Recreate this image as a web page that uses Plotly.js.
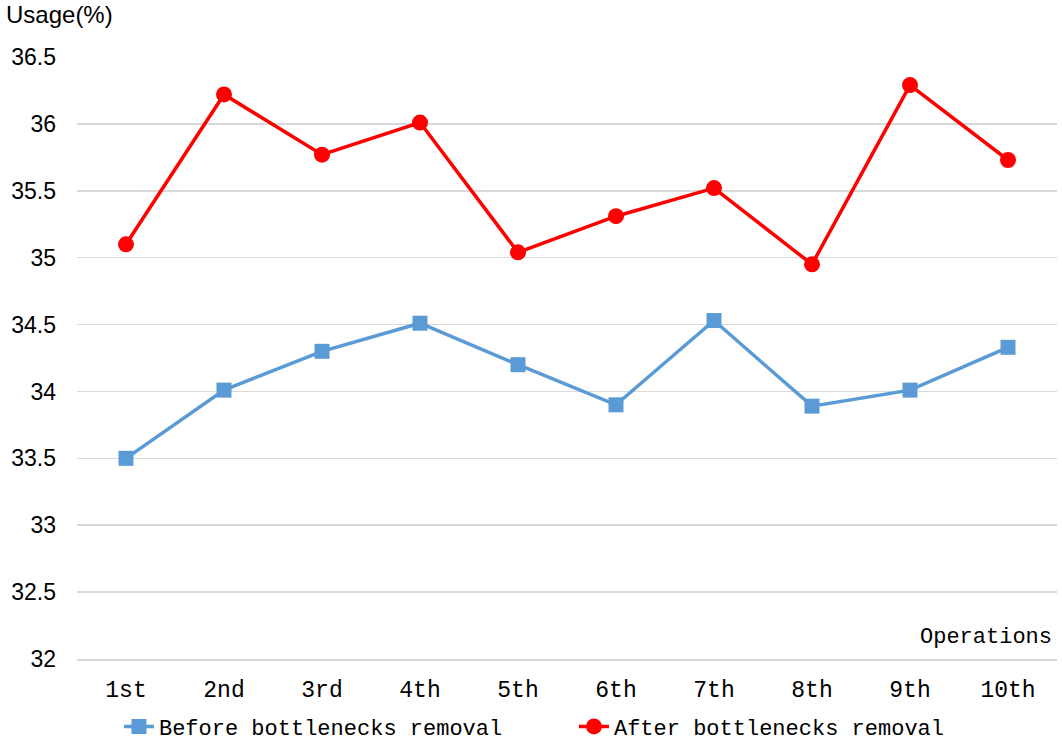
<!DOCTYPE html>
<html>
<head>
<meta charset="utf-8">
<script src="https://cdn.plot.ly/plotly-3.0.1.min.js"></script>
<style>html,body{margin:0;padding:0;background:#fff;}#chart{width:1062px;height:743px;}</style>
</head>
<body>
<div id="chart"></div>
<script>
const categories = ["1st","2nd","3rd","4th","5th","6th","7th","8th","9th","10th"];
const beforeValues = [33.50, 34.01, 34.30, 34.51, 34.20, 33.90, 34.53, 33.89, 34.01, 34.33];
const afterValues = [35.10, 36.22, 35.77, 36.01, 35.04, 35.31, 35.52, 34.95, 36.29, 35.73];
const yTicks = [32, 32.5, 33, 33.5, 34, 34.5, 35, 35.5, 36, 36.5];
const yTickLabels = ["32","32.5","33","33.5","34","34.5","35","35.5","36","36.5"];

const mono = "Liberation Mono, DejaVu Sans Mono, monospace";
const sans = "Liberation Sans, Arial, sans-serif";

const traces = [
  {
    x: categories, y: beforeValues, name: "Before bottlenecks removal",
    type: "scatter", mode: "lines+markers",
    line: {color: "#5b9bd5", width: 3.5},
    marker: {symbol: "square", size: 15, color: "#5b9bd5"}
  },
  {
    x: categories, y: afterValues, name: "After bottlenecks removal",
    type: "scatter", mode: "lines+markers",
    line: {color: "#ff0000", width: 3.5},
    marker: {symbol: "circle", size: 16, color: "#ff0000"}
  }
];

const layout = {
  width: 1062, height: 743,
  margin: {l: 77, r: 5, t: 57, b: 84},
  paper_bgcolor: "#fff", plot_bgcolor: "#fff",
  showlegend: true,
  legend: {orientation: "h", xref: "container", yref: "container",
           x: 0.112, xanchor: "left", y: 0.022, yanchor: "middle",
           bgcolor: "rgba(0,0,0,0)",
           font: {family: mono, size: 22, color: "#000"},
           entrywidth: 410, entrywidthmode: "pixels", tracegroupgap: 0},
  xaxis: {
    type: "category", range: [-0.5, 9.5], autorange: false,
    showgrid: false, zeroline: false,
    showline: true, linecolor: "#d9d9d9", linewidth: 1.5,
    ticks: "", tickfont: {family: mono, size: 23, color: "#000"},
    ticklabelstandoff: 9
  },
  yaxis: {
    range: [32, 36.5], autorange: false, tickvals: yTicks, ticktext: yTickLabels,
    showgrid: true, gridcolor: "#d9d9d9", gridwidth: 1.5, zeroline: false, showline: false,
    ticks: "", tickfont: {family: sans, size: 23, color: "#000"}, ticklabelstandoff: 20
  },
  annotations: [
    {text: "Usage(%)", xref: "paper", yref: "paper", x: -0.074, y: 1.07, xanchor: "left", yanchor: "middle",
     showarrow: false, font: {family: sans, size: 24, color: "#000"}},
    {text: "Operations", xref: "paper", yref: "paper", x: 0.997, y: 0.035, xanchor: "right", yanchor: "middle",
     showarrow: false, font: {family: mono, size: 22, color: "#000"}}
  ]
};

Plotly.newPlot("chart", traces, layout, {displayModeBar: false, staticPlot: true});
</script>
</body>
</html>
